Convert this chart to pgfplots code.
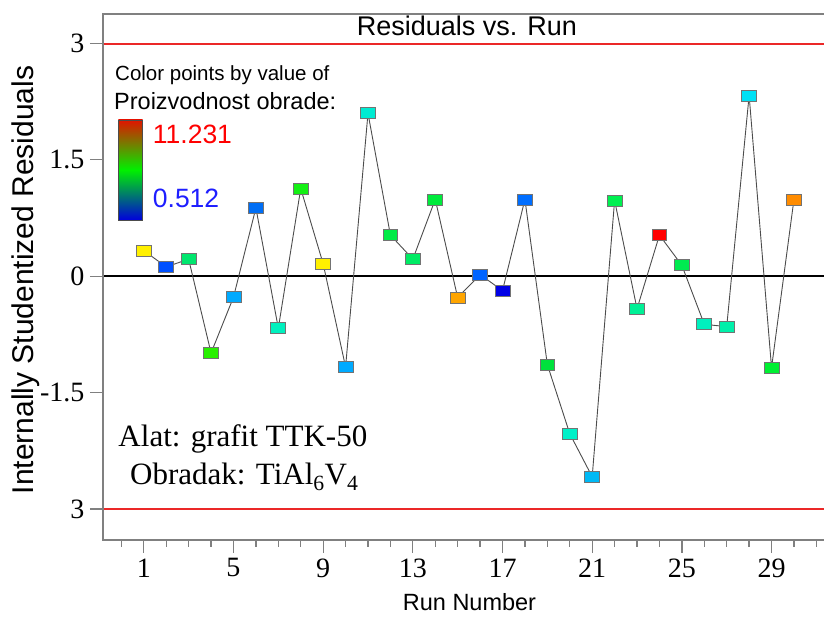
\documentclass[border=0pt]{standalone}
\usepackage{fontspec}
\setmainfont{Liberation Serif}
\newfontfamily\arial{Liberation Sans}
\usepackage{pgfplots}
\pgfplotsset{compat=1.18}
\usepackage{pgfplotstable}

\pgfplotstableread{
run res cls
1 0.33 c1
2 0.12 c2
3 0.22 c3
4 -0.99 c4
5 -0.27 c5
6 0.88 c6
7 -0.67 c7
8 1.13 c8
9 0.16 c9
10 -1.17 c10
11 2.10 c11
12 0.53 c12
13 0.22 c13
14 0.99 c14
15 -0.275 c15
16 0.02 c16
17 -0.185 c17
18 0.99 c18
19 -1.14 c19
20 -2.03 c20
21 -2.585 c21
22 0.977 c22
23 -0.42 c23
24 0.53 c24
25 0.14 c25
26 -0.62 c26
27 -0.65 c27
28 2.33 c28
29 -1.18 c29
30 0.99 c30
}\resdata

\definecolor{c1}{RGB}{255,240,0}
\definecolor{c2}{RGB}{0,80,255}
\definecolor{c3}{RGB}{0,230,110}
\definecolor{c4}{RGB}{40,240,0}
\definecolor{c5}{RGB}{0,170,255}
\definecolor{c6}{RGB}{0,110,245}
\definecolor{c7}{RGB}{0,240,190}
\definecolor{c8}{RGB}{20,240,20}
\definecolor{c9}{RGB}{255,240,0}
\definecolor{c10}{RGB}{0,170,255}
\definecolor{c11}{RGB}{0,235,210}
\definecolor{c12}{RGB}{0,235,70}
\definecolor{c13}{RGB}{0,235,100}
\definecolor{c14}{RGB}{0,235,60}
\definecolor{c15}{RGB}{255,165,0}
\definecolor{c16}{RGB}{0,100,255}
\definecolor{c17}{RGB}{0,0,230}
\definecolor{c18}{RGB}{0,110,255}
\definecolor{c19}{RGB}{0,225,60}
\definecolor{c20}{RGB}{0,240,200}
\definecolor{c21}{RGB}{0,185,245}
\definecolor{c22}{RGB}{0,240,80}
\definecolor{c23}{RGB}{0,240,150}
\definecolor{c24}{RGB}{255,0,0}
\definecolor{c25}{RGB}{0,235,80}
\definecolor{c26}{RGB}{0,240,190}
\definecolor{c27}{RGB}{0,240,170}
\definecolor{c28}{RGB}{0,225,245}
\definecolor{c29}{RGB}{0,240,50}
\definecolor{c30}{RGB}{255,140,0}

\definecolor{refred}{RGB}{235,40,40}
\definecolor{axgray}{RGB}{128,128,128}
\definecolor{cbred}{RGB}{225,20,0}
\definecolor{cbgreen}{RGB}{0,240,0}
\definecolor{cbblue}{RGB}{0,0,220}

\begin{document}
\begin{tikzpicture}
\begin{axis}[
  scale only axis, width=721pt, height=526pt,
  at={(0pt,0pt)}, anchor=south west,
  xmin=-0.82, xmax=31.34, ymin=-3.4, ymax=3.38,
  axis line style={draw=none},
  clip=false,
  xtick={1,5,9,13,17,21,25,29},
  minor xtick={0,...,31},
  ytick={-3,-1.5,0,1.5,3},
  yticklabels={3,-1.5,0,1.5,3},
  xtick pos=left, ytick pos=left,
  tick align=outside,
  major tick length=13pt, minor tick length=7pt,
  tick style={axgray, line width=1.3pt},
  minor tick style={axgray, line width=1.3pt},
  ticklabel style={font=\fontsize{28}{30}\selectfont},
  /pgf/number format/assume math mode=true,
  xticklabel style={yshift=-2pt},
  yticklabel style={xshift=-2pt},
]
\addplot[black, line width=1.5pt, mark=none] coordinates {(-0.82,0) (31.34,0)};
\addplot[scatter, only marks, mark=square*, mark size=5.5pt,
  mark options={xscale=1.35, line width=0.8pt},
  point meta=explicit symbolic,
  scatter/classes={
    c1={fill=c1,draw=black!55}, c2={fill=c2,draw=black!55}, c3={fill=c3,draw=black!55},
    c4={fill=c4,draw=black!55}, c5={fill=c5,draw=black!55}, c6={fill=c6,draw=black!55},
    c7={fill=c7,draw=black!55}, c8={fill=c8,draw=black!55}, c9={fill=c9,draw=black!55},
    c10={fill=c10,draw=black!55}, c11={fill=c11,draw=black!55}, c12={fill=c12,draw=black!55},
    c13={fill=c13,draw=black!55}, c14={fill=c14,draw=black!55}, c15={fill=c15,draw=black!55},
    c16={fill=c16,draw=black!55}, c17={fill=c17,draw=black!55}, c18={fill=c18,draw=black!55},
    c19={fill=c19,draw=black!55}, c20={fill=c20,draw=black!55}, c21={fill=c21,draw=black!55},
    c22={fill=c22,draw=black!55}, c23={fill=c23,draw=black!55}, c24={fill=c24,draw=black!55},
    c25={fill=c25,draw=black!55}, c26={fill=c26,draw=black!55}, c27={fill=c27,draw=black!55},
    c28={fill=c28,draw=black!55}, c29={fill=c29,draw=black!55}, c30={fill=c30,draw=black!55}}]
  table[x=run, y=res, meta=cls] \resdata;
\addplot[black!70, line width=0.9pt, mark=none] table[x=run, y=res] \resdata;
\end{axis}
% reference lines at +3 and -3 (axis: 77.47pt per unit, zero at 263.4pt)
\draw[color=refred, line width=1.6pt] (0pt,495.8pt) -- (721pt,495.8pt);
\draw[color=refred, line width=1.6pt] (0pt,31pt) -- (721pt,31pt);
% frame (left, top, bottom)
\draw[axgray, line width=1.8pt] (721pt,526pt) -- (0pt,526pt) -- (0pt,0pt) -- (721pt,0pt);
% title
\node[font=\arial\fontsize{27}{30}\selectfont, anchor=base] at (364pt,504pt) {Residuals vs. Run};
% colour legend
\node[font=\arial\fontsize{20.5}{22}\selectfont, anchor=base west, inner sep=0pt] at (12pt,459.3pt) {Color points by value of};
\node[font=\arial\fontsize{23.5}{25}\selectfont, anchor=base west, inner sep=0pt] at (11pt,430.7pt) {Proizvodnost obrade:};
\shade[top color=cbred, bottom color=cbblue, middle color=cbgreen] (15.3pt,320pt) rectangle (39.7pt,420pt);
\draw[black!70, line width=0.8pt] (15.3pt,320pt) rectangle (39.7pt,420pt);
\node[font=\arial\fontsize{26.5}{28}\selectfont, text=red, anchor=base west, inner sep=0pt] at (49.7pt,396.7pt) {11.231};
\node[font=\arial\fontsize{26.5}{28}\selectfont, text={rgb,255:red,30;green,30;blue,255}, anchor=base west, inner sep=0pt] at (49.7pt,332pt) {0.512};
% annotation
\node[font=\fontsize{31}{33}\selectfont, anchor=base west, inner sep=0pt] at (15.3pt,93.3pt) {Alat: grafit TTK-50};
\node[font=\fontsize{31}{33}\selectfont, anchor=base west, inner sep=0pt] at (27pt,55pt) {Obradak: TiAl\textsubscript{6}V\textsubscript{4}};
% axis labels
\node[font=\arial\fontsize{30}{32}\selectfont, rotate=90] at (-77pt,260pt) {Internally Studentized Residuals};
\node[font=\arial\fontsize{23.5}{25}\selectfont, anchor=base] at (366.5pt,-71pt) {Run Number};
\pgfresetboundingbox
\path (-103pt,-77pt) rectangle (721pt,540pt);
\end{tikzpicture}
\end{document}
